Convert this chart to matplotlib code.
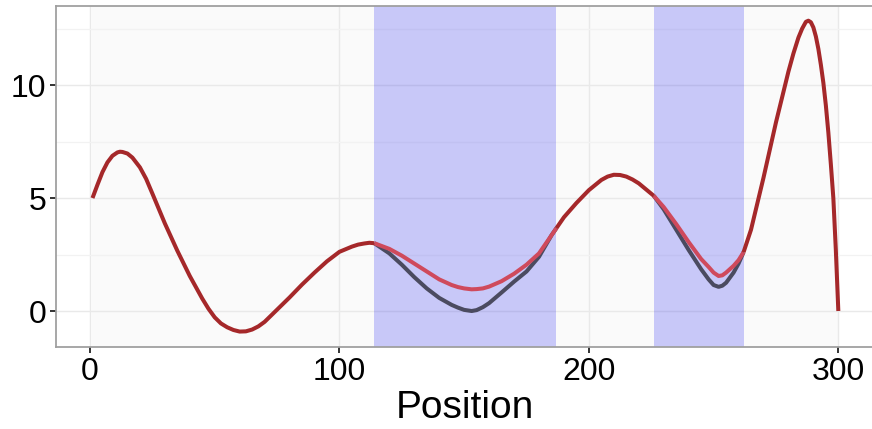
import numpy as np
import matplotlib
matplotlib.use("Agg")
import matplotlib.pyplot as plt
from matplotlib.ticker import MultipleLocator

plt.rcParams['font.family'] = ['Liberation Sans', 'DejaVu Sans']

# positions along the signal and the two fitted curves
pos = [1, 3, 5, 7, 9, 11, 12, 13, 15, 17, 20, 22.5, 25, 30, 35, 40, 45, 47.5,
       50, 52.5, 55, 57.5, 60, 62.5, 65, 67.5, 70, 75, 80, 85, 90, 95, 100,
       105, 107.5, 110, 112, 114,
       120, 125, 130, 135, 140, 145, 147.5, 150, 153, 155, 157.5, 160, 165,
       170, 175, 180, 185, 187,
       190, 195, 200, 205, 207.5, 210, 212.5, 215, 217.5, 220, 226,
       230, 235, 240, 245, 248, 250, 252, 253.5, 255, 258, 260, 262,
       265, 270, 275, 280, 282, 284, 285.5, 287, 288, 289, 290, 291, 292, 293,
       294, 295, 296, 297, 298, 299, 300]

truth = [5.0, 5.59, 6.15, 6.58, 6.87, 7.02, 7.05, 7.04, 6.97, 6.79, 6.36, 5.85,
         5.2, 3.88, 2.67, 1.55, 0.55, 0.1,
         -0.28, -0.55, -0.72, -0.84, -0.91, -0.9, -0.82, -0.68, -0.48, 0.06,
         0.6, 1.17, 1.7, 2.2, 2.62,
         2.85, 2.94, 2.99, 3.02, 3.0,
         2.55, 2.05, 1.5, 1.0, 0.58, 0.27, 0.15, 0.05, 0.0, 0.04, 0.17, 0.35,
         0.82, 1.3, 1.75, 2.4, 3.35, 3.67,
         4.15, 4.78, 5.35, 5.8, 5.95, 6.03, 6.02, 5.95, 5.82, 5.65, 5.1,
         4.5, 3.6, 2.7, 1.85, 1.4, 1.15, 1.07, 1.12, 1.25, 1.7, 2.1, 2.6,
         3.6, 5.9, 8.35, 10.6, 11.4, 12.1, 12.5, 12.8, 12.85, 12.78, 12.55,
         12.15, 11.6, 10.9, 10.1, 9.1, 7.9, 6.5, 5.0, 2.7, 0.0]

estimate = [5.0, 5.59, 6.15, 6.58, 6.87, 7.02, 7.05, 7.04, 6.97, 6.79, 6.36, 5.85,
            5.2, 3.88, 2.67, 1.55, 0.55, 0.1,
            -0.28, -0.55, -0.72, -0.84, -0.91, -0.9, -0.82, -0.68, -0.48, 0.06,
            0.6, 1.17, 1.7, 2.2, 2.62,
            2.85, 2.94, 2.99, 3.02, 3.0,
            2.75, 2.45, 2.1, 1.75, 1.4, 1.15, 1.06, 1.0, 0.96, 0.97, 1.0, 1.08,
            1.32, 1.65, 2.05, 2.55, 3.35, 3.67,
            4.15, 4.78, 5.35, 5.8, 5.95, 6.03, 6.02, 5.95, 5.82, 5.65, 5.1,
            4.6, 3.85, 3.05, 2.3, 1.95, 1.7, 1.55, 1.58, 1.7, 2.0, 2.25, 2.6,
            3.6, 5.9, 8.35, 10.6, 11.4, 12.1, 12.5, 12.8, 12.85, 12.78, 12.55,
            12.15, 11.6, 10.9, 10.1, 9.1, 7.9, 6.5, 5.0, 2.7, 0.0]

regions = [(114, 187), (226, 262)]

x = np.array(pos, dtype=float)
y_true = np.array(truth)
y_est = np.array(estimate)

inside = np.zeros(len(x), dtype=bool)
interior = np.zeros(len(x), dtype=bool)
for lo, hi in regions:
    inside |= (x >= lo) & (x <= hi)
    interior |= (x > lo) & (x < hi)

fig = plt.figure(figsize=(8.72, 4.29), dpi=100)
ax = fig.add_axes([56 / 872, 82 / 429, 818 / 872, 341 / 429])
ax.set_facecolor('white')

# light panel under the data range, shaded regions on top of the grid
ax.axvspan(x.min(), x.max(), color='#fafafa', zorder=0.2, lw=0)
for lo, hi in regions:
    ax.axvspan(lo, hi, color='#0000f0', alpha=0.2, lw=0, zorder=1)

line_kw = dict(lw=2.9, solid_capstyle='butt', solid_joinstyle='round')
ax.plot(x, np.where(inside, y_true, np.nan), color='#4b4b60', zorder=3, **line_kw)
ax.plot(x, np.where(inside, y_est, np.nan), color='#cf4a5c', zorder=4, **line_kw)
ax.plot(x, np.where(~interior, y_true, np.nan), color='#a5282a', zorder=5, **line_kw)

ax.set_xlim(-13.63, 314.3)
ax.set_ylim(-1.593, 13.50)
ax.set_xticks([0, 100, 200, 300])
ax.set_yticks([0, 5, 10])
ax.yaxis.set_minor_locator(MultipleLocator(2.5))

ax.set_axisbelow(True)
ax.grid(which='major', color='#e9e9e9', lw=1.0)
ax.grid(which='minor', axis='y', color='#f2f2f2', lw=0.9)

for side in ['left', 'top', 'bottom', 'right']:
    ax.spines[side].set_color('#a0a0a0')
    ax.spines[side].set_linewidth(1.3)

ax.tick_params(which='major', length=4, width=1.4, color='#333333',
               labelsize=23, labelcolor='black', pad=3)
ax.tick_params(which='minor', length=0)

ax.set_xlabel('Position', fontsize=28, labelpad=2)

fig.savefig('out.png', dpi=100)
